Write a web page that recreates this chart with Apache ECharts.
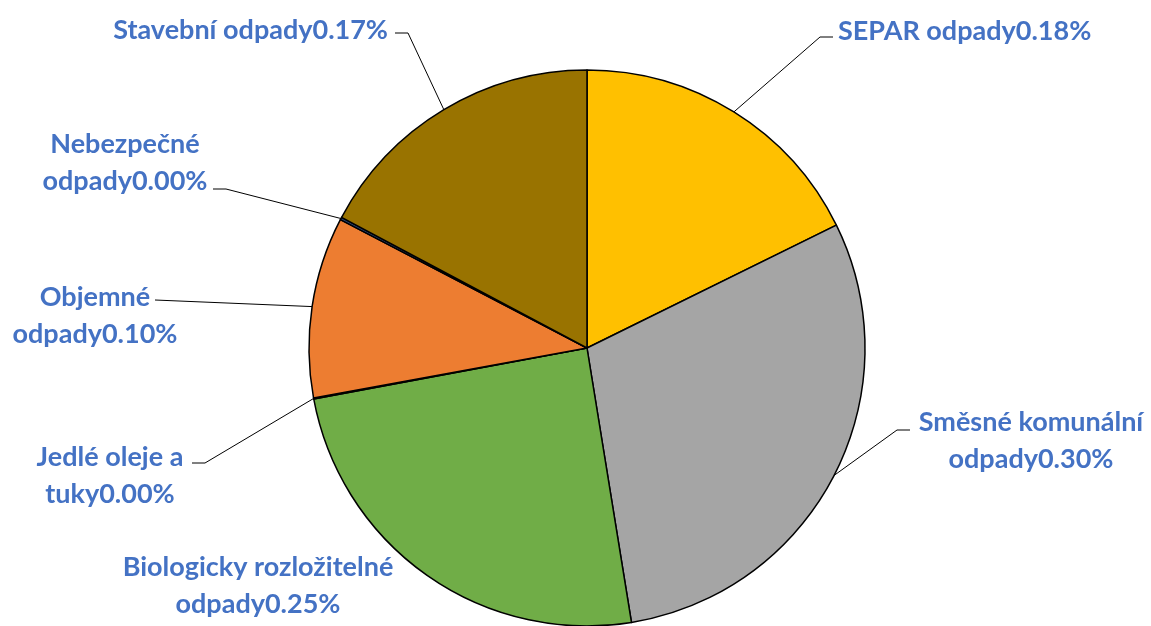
<!DOCTYPE html>
<html><head><meta charset="utf-8">
<script src="https://cdn.jsdelivr.net/npm/echarts@6/dist/echarts.min.js"></script>
<style>html,body{margin:0;padding:0;background:#fff}#c{width:1151px;height:626px}</style>
</head><body><div id="c"></div>
<script>
const categories = ["SEPAR odpady", "Směsné komunální\nodpady", "Biologicky rozložitelné\nodpady", "Jedlé oleje a\ntuky", "Objemné\nodpady", "Nebezpečné\nodpady", "Stavební odpady"];
const values = [0.177, 0.297, 0.246, 0.0006, 0.105, 0.0015, 0.172];
const colors = ["#FFC000", "#A5A5A5", "#70AD47", "#4472C4", "#ED7D31", "#264478", "#997300"];
// label anchors (manual label placement, as in the original)
const labelPos = [
  {x: 838, y: 31, align: 'left', line: [[820, 37], [833, 37]]},
  {x: 1031, y: 441, align: 'center', line: [[897, 430], [910, 430]]},
  {x: 258, y: 586, align: 'center', line: null},
  {x: 110, y: 476, align: 'center', line: [[205, 463], [192, 463]]},
  {x: 95, y: 316, align: 'center', line: [[155, 300]]},
  {x: 125, y: 163, align: 'center', line: [[226, 189], [213, 189]]},
  {x: 388, y: 30, align: 'right', line: [[408, 33], [395, 33]]}
];
const chart = echarts.init(document.getElementById('c'));
chart.setOption({
  animation: false,
  series: [{
    type: 'pie',
    center: [587, 348],
    radius: 278,
    startAngle: 90,
    clockwise: true,
    minAngle: 0,
    avoidLabelOverlap: false,
    itemStyle: {borderColor: '#000', borderWidth: 1.5},
    label: {
      show: true, position: 'outside',
      color: '#4472C4', fontFamily: 'Lato', fontWeight: 'bold', fontSize: 27, lineHeight: 37,
      formatter: p => p.name + (p.value).toFixed(2) + '%'
    },
    labelLine: {show: true, lineStyle: {color: '#000', width: 1}},
    labelLayout: function (params) {
      const lp = labelPos[params.dataIndex];
      const res = {x: lp.x, y: lp.y, align: lp.align, verticalAlign: 'middle'};
      if (lp.line && params.labelLinePoints) {
        res.labelLinePoints = [params.labelLinePoints[0]].concat(lp.line);
      }
      return res;
    },
    data: categories.map((n, i) => ({
      name: n, value: values[i], itemStyle: {color: colors[i]},
      labelLine: {show: labelPos[i].line !== null}
    }))
  }]
});
</script></body></html>
